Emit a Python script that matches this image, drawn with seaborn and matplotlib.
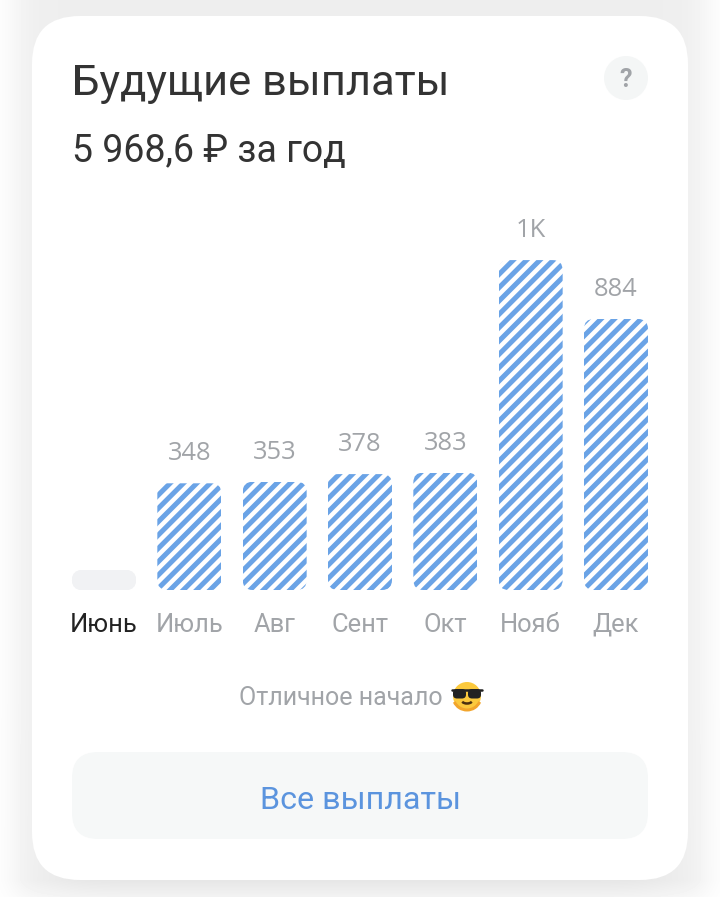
import matplotlib.pyplot as plt
import numpy as np
import seaborn as sns
from matplotlib.patches import Arc, Circle, FancyBboxPatch
from matplotlib.transforms import IdentityTransform

# chart values
months = ["Июнь", "Июль", "Авг", "Сент", "Окт", "Нояб", "Дек"]
payouts = [0, 348, 353, 378, 383, 1076, 884]
value_labels = ["", "348", "353", "378", "383", "1K", "884"]
title = "Будущие выплаты"
subtitle = "5 968,6 ₽ за год"
note = "Отличное начало"
button = "Все выплаты"

DPI = 160
W, H = 720, 897
BLUE = "#6aa3e6"
GREY = "#a1a4a8"
DARK = "#333333"


# pt :: pixels -> points
def pt(px):
    return px * 72 / DPI


sns.set_theme(style="white")
plt.rcParams["font.family"] = ["Roboto", "DejaVu Sans"]
plt.rcParams["hatch.linewidth"] = pt(5)

fig = plt.figure(figsize=(W / DPI, H / DPI), dpi=DPI)

# page with the soft card shadow
bg = fig.add_axes([0, 0, 1, 1], zorder=0)
bg.set_xlim(0, W)
bg.set_ylim(H, 0)
bg.axis("off")
yy, xx = np.mgrid[0:H, 0:W]
side = 1 / (1 + np.exp((np.abs(xx - 360) - 345) / 9))
inner = 1 / (1 + np.exp((np.abs(xx - 360) - 300) / 14))
ramp = np.clip((yy - 700) / 180, 0, 1)
fade = 1 - 0.5 * np.clip((yy - 880) / 17, 0, 1)
shade = 1 - (side * 0.067 + inner * 0.03 * ramp) * fade
bg.imshow(shade, cmap="gray", vmin=0, vmax=1, extent=(0, W, H, 0), aspect="auto")
bg.add_patch(FancyBboxPatch((32, 16), 656, 864, boxstyle="round,pad=0,rounding_size=48", fc="white", ec="none"))
bg.add_patch(FancyBboxPatch((72, 752), 576, 87, boxstyle="round,pad=0,rounding_size=26", fc="#f6f8f8", ec="none"))
bg.add_patch(Circle((626, 78), 22, fc="#f4f6f6", ec="none"))

# texts
bg.text(72, 95, title, fontsize=pt(43.5), color=DARK, va="baseline")
bg.text(72, 162, subtitle, fontsize=pt(37.5), color=DARK, va="baseline")
bg.text(626, 87, "?", fontsize=pt(25), color=GREY, fontweight="bold", ha="center", va="baseline")
bg.text(443, 705, note, fontsize=pt(25), color=GREY, ha="right", va="baseline")
bg.text(360, 809, button, fontsize=pt(32.2), color="#5b94de", ha="center", va="baseline")

# sunglasses emoji
bg.add_patch(Circle((467, 696), 14, fc="#fbc93d", ec="none"))
bg.add_patch(Arc((467, 696), 28, 28, theta1=25, theta2=155, ec="#f2a52c", lw=pt(3)))
bg.add_patch(FancyBboxPatch((453, 689), 13, 9.5, boxstyle="round,pad=0,rounding_size=4", fc="#222222", ec="none"))
bg.add_patch(FancyBboxPatch((468, 689), 13, 9.5, boxstyle="round,pad=0,rounding_size=4", fc="#222222", ec="none"))
bg.plot([452, 482], [690, 690], color="#222222", lw=pt(2.5))
bg.add_patch(Arc((467, 700), 11, 7, theta1=20, theta2=160, ec="#4a3010", lw=pt(2.5)))

# bars: a month with no payout still gets a short pill
ax = fig.add_axes([61.33 / W, (H - 590) / H, 597.33 / W, 390 / H], zorder=1)
ax.patch.set_alpha(0)
pill = 65
shown = [max(v, pill) for v in payouts]
sns.barplot(x=months, y=shown, color=BLUE, width=0.75, saturation=1, ax=ax)
ax.set_xlim(-0.5, 6.5)
ax.set_ylim(0, 1272)
sns.despine(ax=ax, left=True, bottom=True)
ax.set_yticks([])
ax.tick_params(axis="x", length=0, pad=pt(23), labelsize=pt(25.5), labelcolor=GREY)
ax.get_xticklabels()[0].set_color("#222222")

fig.canvas.draw()
for bar, value in zip(ax.patches, payouts):
    if value == 0:
        bar.set_facecolor("#f1f2f4")
        bar.set_edgecolor("#f1f2f4")
    else:
        bar.set_facecolor("white")
        bar.set_edgecolor(BLUE)
        bar.set_linewidth(0)
        bar.set_hatch("////")
    box = bar.get_window_extent()
    rounded = FancyBboxPatch(
        (box.x0, box.y0),
        box.width,
        box.height,
        boxstyle="round,pad=0,rounding_size=10",
        transform=IdentityTransform(),
    )
    bar.set_clip_path(rounded)

ax.bar_label(
    ax.containers[0],
    labels=value_labels,
    padding=pt(17),
    fontsize=pt(25.5),
    color=GREY,
    family=["Open Sans", "DejaVu Sans"],
)

plt.savefig("out.png", dpi=DPI)
